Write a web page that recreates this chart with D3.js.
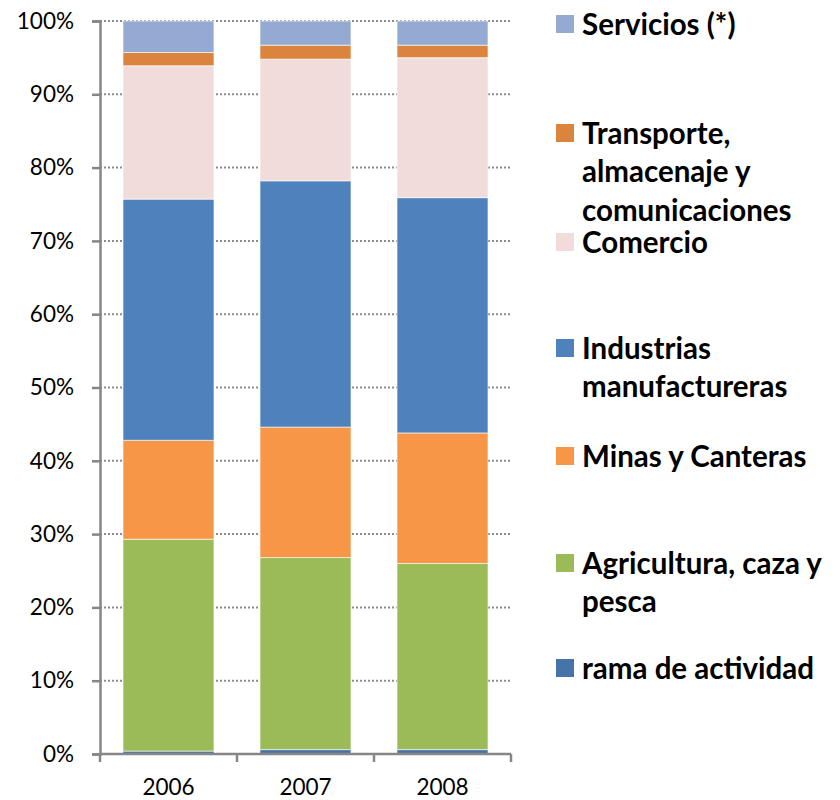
<!DOCTYPE html>
<html>
<head>
<meta charset="utf-8">
<script src="https://cdn.jsdelivr.net/npm/d3@7"></script>
<style>
  body { margin: 0; background: #fff; }
  svg { display: block; }
</style>
</head>
<body>
<svg id="chart" width="840" height="800"></svg>
<script>
// ---- Data ----
const years = ["2006", "2007", "2008"];
const seriesNames = [
  "rama de actividad",
  "Agricultura, caza y pesca",
  "Minas y Canteras",
  "Industrias manufactureras",
  "Comercio",
  "Transporte, almacenaje y comunicaciones",
  "Servicios (*)"
];
const ramaValues        = [0.4, 0.6, 0.6];
const agriculturaValues = [28.9, 26.2, 25.4];
const minasValues       = [13.5, 17.8, 17.8];
const industriasValues  = [32.9, 33.6, 32.1];
const comercioValues    = [18.2, 16.6, 19.1];
const transporteValues  = [1.8, 1.9, 1.7];
const serviciosValues   = [4.3, 3.3, 3.3];
const yTicks = [0, 10, 20, 30, 40, 50, 60, 70, 80, 90, 100];

const seriesColors = ["#4674A9", "#9BBB59", "#F79646", "#4F81BD", "#F2DCDB", "#DB843D", "#95AAD2"];
const legendLines = [
  ["Servicios (*)"],
  ["Transporte,", "almacenaje y", "comunicaciones"],
  ["Comercio"],
  ["Industrias", "manufactureras"],
  ["Minas y Canteras"],
  ["Agricultura, caza y", "pesca"],
  ["rama de actividad"]
];

// build table
const allValues = [ramaValues, agriculturaValues, minasValues, industriasValues, comercioValues, transporteValues, serviciosValues];
const table = years.map((y, i) => {
  const row = { year: y };
  seriesNames.forEach((s, k) => { row[s] = allValues[k][i]; });
  return row;
});

const svg = d3.select("#chart");
const x0 = 100, x1 = 511, yTop = 21, yBot = 754;

const x = d3.scaleBand().domain(years).range([x0, x1]).paddingInner(0.336).paddingOuter(0.168);
const y = d3.scaleLinear().domain([0, 100]).range([yBot, yTop]);

// gridlines
svg.append("g").selectAll("line").data(yTicks.filter(t => t > 0)).join("line")
  .attr("x1", x0).attr("x2", x1)
  .attr("y1", d => y(d)).attr("y2", d => y(d))
  .attr("stroke", "#8c8c8c").attr("stroke-width", 2)
  .attr("stroke-dasharray", "2,2");

// stacked bars
const stack = d3.stack().keys(seriesNames).order(d3.stackOrderNone).offset(d3.stackOffsetNone);
const stacked = stack(table);
svg.append("g").selectAll("g").data(stacked).join("g")
  .attr("fill", (d, i) => seriesColors[i])
  .selectAll("rect").data(d => d).join("rect")
  .attr("x", d => x(d.data.year))
  .attr("width", x.bandwidth())
  .attr("y", d => y(d[1]))
  .attr("height", d => y(d[0]) - y(d[1]))
  .attr("stroke", "#ffffff").attr("stroke-opacity", 0.6).attr("stroke-width", 1);

// y axis
const yAxis = d3.axisLeft(y).tickValues(yTicks).tickFormat(d => d + "%").tickSize(8).tickPadding(18);
const gy = svg.append("g").attr("transform", `translate(${x0},0)`).call(yAxis);
gy.select(".domain").attr("stroke", "#868686").attr("stroke-width", 2.5);
gy.selectAll(".tick line").attr("stroke", "#868686").attr("stroke-width", 2.5);
gy.selectAll(".tick text").attr("fill", "#000").style("font-family", "Lato, 'Open Sans', sans-serif").style("font-size", "22.5px");

// x axis
const xAxis = d3.axisBottom(x).tickSize(0).tickPadding(25);
const gx = svg.append("g").attr("transform", `translate(0,${yBot})`).call(xAxis);
gx.select(".domain").remove();
gx.append("line").attr("x1", x0).attr("x2", x1).attr("y1", 0).attr("y2", 0)
  .attr("stroke", "#868686").attr("stroke-width", 2.5);
const step = x.step();
gx.selectAll(".boundary").data(d3.range(years.length + 1)).join("line")
  .attr("x1", i => x0 + i * step).attr("x2", i => x0 + i * step)
  .attr("y1", 0).attr("y2", 8)
  .attr("stroke", "#868686").attr("stroke-width", 2.5);
gx.selectAll(".tick text").attr("fill", "#000").style("font-family", "Lato, 'Open Sans', sans-serif").style("font-size", "22.5px");

// legend
const legendY = [24, 133, 242, 348, 456, 563, 668];
const legendColors = seriesColors.slice().reverse();
const lg = svg.append("g");
legendLines.forEach((lines, i) => {
  const g = lg.append("g").attr("transform", `translate(556,${legendY[i]})`);
  g.append("rect").attr("x", 0).attr("y", -9).attr("width", 18).attr("height", 18).attr("fill", legendColors[i]);
  lines.forEach((t, j) => {
    g.append("text").attr("x", 26).attr("y", j * 38.5).attr("dy", "0.36em")
      .style("font-family", "Lato, 'Open Sans', sans-serif").style("font-weight", "bold").style("font-size", "29.5px")
      .attr("fill", "#000").text(t);
  });
});
</script>
</body>
</html>
